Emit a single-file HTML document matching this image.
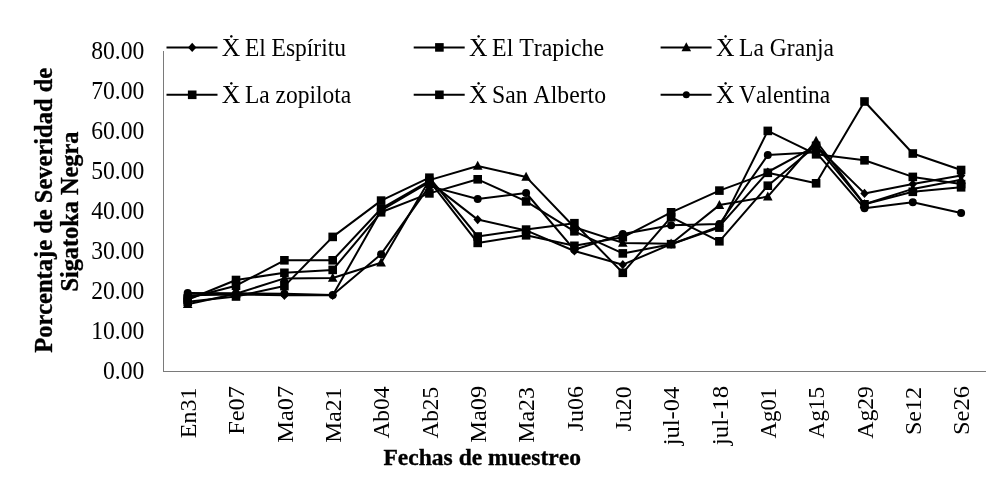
<!DOCTYPE html>
<html lang="es">
<head>
<meta charset="utf-8">
<title>Porcentaje de Severidad de Sigatoka Negra</title>
<style>
html,body{margin:0;padding:0;background:#fff;}
body{width:1008px;height:492px;overflow:hidden;}
svg{display:block;filter:blur(0.35px);}
text{font-family:"Liberation Serif",serif;fill:#000;font-kerning:none;}
.b{font-weight:bold;stroke:#000;stroke-width:0.35px;}
</style>
</head>
<body>
<svg width="1008" height="492" viewBox="0 0 1008 492">
<rect width="1008" height="492" fill="#fff"/>

<g stroke="#7a7a7a" stroke-width="1" fill="none" shape-rendering="crispEdges">
<line x1="163.5" y1="51" x2="163.5" y2="372"/>
<line x1="163" y1="371.5" x2="986" y2="371.5"/>
</g>
<g font-size="24.5" text-anchor="end">
<text transform="translate(144.3,378.5) scale(0.965,1)">0.00</text>
<text transform="translate(144.3,338.5) scale(0.965,1)">10.00</text>
<text transform="translate(144.3,298.5) scale(0.965,1)">20.00</text>
<text transform="translate(144.3,258.5) scale(0.965,1)">30.00</text>
<text transform="translate(144.3,218.5) scale(0.965,1)">40.00</text>
<text transform="translate(144.3,178.5) scale(0.965,1)">50.00</text>
<text transform="translate(144.3,138.5) scale(0.965,1)">60.00</text>
<text transform="translate(144.3,98.5) scale(0.965,1)">70.00</text>
<text transform="translate(144.3,58.5) scale(0.965,1)">80.00</text>
</g>
<g font-size="23.2" text-anchor="end">
<text transform="translate(196.0,387.59) rotate(-90) scale(1.0325,1)">En31</text>
<text transform="translate(244.3,386.02) rotate(-90) scale(1.053,1)">Fe07</text>
<text transform="translate(292.7,385.72) rotate(-90) scale(1.0535,1)">Ma07</text>
<text transform="translate(341.0,387.61) rotate(-90) scale(1.0183,1)">Ma21</text>
<text transform="translate(389.4,386.4) rotate(-90) scale(1.0132,1)">Ab04</text>
<text transform="translate(437.7,386.87) rotate(-90) scale(1.004,1)">Ab25</text>
<text transform="translate(486.0,385.72) rotate(-90) scale(1.0535,1)">Ma09</text>
<text transform="translate(534.4,387.15) rotate(-90) scale(1.0269,1)">Ma23</text>
<text transform="translate(582.7,386.05) rotate(-90) scale(1.0307,1)">Ju06</text>
<text transform="translate(631.1,386.45) rotate(-90) scale(1.0213,1)">Ju20</text>
<text transform="translate(679.4,386.7) rotate(-90) scale(1.057,1)">jul-04</text>
<text transform="translate(727.7,385.7) rotate(-90) scale(1.0746,1)">jul-18</text>
<text transform="translate(776.1,387.67) rotate(-90) scale(0.9883,1)">Ag01</text>
<text transform="translate(824.4,386.87) rotate(-90) scale(1.004,1)">Ag15</text>
<text transform="translate(872.8,386.06) rotate(-90) scale(1.02,1)">Ag29</text>
<text transform="translate(921.1,386.84) rotate(-90) scale(1.0386,1)">Se12</text>
<text transform="translate(969.4,386.02) rotate(-90) scale(1.057,1)">Se26</text>
</g>
<text class="b" font-size="25" text-anchor="middle" transform="translate(52.3,210.3) rotate(-90) scale(0.98,1)">Porcentaje de Severidad de</text>
<text class="b" font-size="24.8" text-anchor="middle" transform="translate(77.9,211.6) rotate(-90) scale(0.98,1)">Sigatoka Negra</text>
<text class="b" font-size="23.9" text-anchor="middle" transform="translate(482.2,465.0) scale(0.985,1)">Fechas de muestreo</text>
<g stroke="#000" stroke-width="2" fill="none" stroke-linejoin="round" stroke-linecap="round">
<polyline points="187.7,295.3 236.0,294.5 284.4,295.3 332.7,295.3 381.1,210.3 429.4,182.1 477.7,219.6 526.1,230.4 574.4,251.0 622.8,264.7 671.1,244.2 719.4,226.4 767.8,172.0 816.1,145.8 864.5,193.4 912.8,184.1 961.1,175.6"/>
<polyline points="187.7,301.8 236.0,296.5 284.4,286.1 332.7,236.9 381.1,200.6 429.4,177.7 477.7,236.5 526.1,229.6 574.4,223.2 622.8,272.8 671.1,217.2 719.4,241.3 767.8,185.7 816.1,145.8 864.5,204.3 912.8,191.8 961.1,187.3"/>
<polyline points="187.7,304.2 236.0,293.7 284.4,278.4 332.7,278.0 381.1,262.7 429.4,180.1 477.7,166.0 526.1,176.9 574.4,227.2 622.8,242.9 671.1,243.7 719.4,205.1 767.8,196.6 816.1,141.0 864.5,204.3 912.8,188.9 961.1,179.7"/>
<polyline points="187.7,298.2 236.0,285.7 284.4,260.3 332.7,260.3 381.1,208.7 429.4,180.9 477.7,242.9 526.1,235.3 574.4,245.8 622.8,237.3 671.1,212.3 719.4,190.6 767.8,172.8 816.1,183.3 864.5,101.5 912.8,153.5 961.1,170.0"/>
<polyline points="187.7,299.8 236.0,280.0 284.4,272.8 332.7,269.9 381.1,212.3 429.4,193.4 477.7,179.3 526.1,201.4 574.4,231.3 622.8,253.4 671.1,244.2 719.4,227.6 767.8,130.9 816.1,154.3 864.5,160.3 912.8,176.9 961.1,184.1"/>
<polyline points="187.7,292.9 236.0,293.3 284.4,293.7 332.7,294.9 381.1,254.2 429.4,186.1 477.7,199.0 526.1,193.0 574.4,249.8 622.8,234.1 671.1,225.2 719.4,224.0 767.8,155.1 816.1,152.3 864.5,208.3 912.8,202.2 961.1,213.1"/>
</g>
<g fill="#000" stroke="none">
<polygon points="187.7,290.7 191.9,295.3 187.7,299.9 183.5,295.3"/>
<polygon points="236.0,289.9 240.2,294.5 236.0,299.1 231.8,294.5"/>
<polygon points="284.4,290.7 288.6,295.3 284.4,299.9 280.2,295.3"/>
<polygon points="332.7,290.7 336.9,295.3 332.7,299.9 328.5,295.3"/>
<polygon points="381.1,205.7 385.3,210.3 381.1,214.9 376.9,210.3"/>
<polygon points="429.4,177.5 433.6,182.1 429.4,186.7 425.2,182.1"/>
<polygon points="477.7,215.0 481.9,219.6 477.7,224.2 473.5,219.6"/>
<polygon points="526.1,225.8 530.3,230.4 526.1,235.0 521.9,230.4"/>
<polygon points="574.4,246.4 578.6,251.0 574.4,255.6 570.2,251.0"/>
<polygon points="622.8,260.1 627.0,264.7 622.8,269.3 618.6,264.7"/>
<polygon points="671.1,239.6 675.3,244.2 671.1,248.8 666.9,244.2"/>
<polygon points="719.4,221.8 723.6,226.4 719.4,231.0 715.2,226.4"/>
<polygon points="767.8,167.4 772.0,172.0 767.8,176.6 763.6,172.0"/>
<polygon points="816.1,141.2 820.3,145.8 816.1,150.4 811.9,145.8"/>
<polygon points="864.5,188.8 868.7,193.4 864.5,198.0 860.3,193.4"/>
<polygon points="912.8,179.5 917.0,184.1 912.8,188.7 908.6,184.1"/>
<polygon points="961.1,171.0 965.3,175.6 961.1,180.2 956.9,175.6"/>
<rect x="183.4" y="297.5" width="8.6" height="8.6"/>
<rect x="231.7" y="292.2" width="8.6" height="8.6"/>
<rect x="280.1" y="281.8" width="8.6" height="8.6"/>
<rect x="328.4" y="232.6" width="8.6" height="8.6"/>
<rect x="376.8" y="196.3" width="8.6" height="8.6"/>
<rect x="425.1" y="173.4" width="8.6" height="8.6"/>
<rect x="473.4" y="232.2" width="8.6" height="8.6"/>
<rect x="521.8" y="225.3" width="8.6" height="8.6"/>
<rect x="570.1" y="218.9" width="8.6" height="8.6"/>
<rect x="618.5" y="268.5" width="8.6" height="8.6"/>
<rect x="666.8" y="212.9" width="8.6" height="8.6"/>
<rect x="715.1" y="237.0" width="8.6" height="8.6"/>
<rect x="763.5" y="181.4" width="8.6" height="8.6"/>
<rect x="811.8" y="141.5" width="8.6" height="8.6"/>
<rect x="860.2" y="200.0" width="8.6" height="8.6"/>
<rect x="908.5" y="187.5" width="8.6" height="8.6"/>
<rect x="956.8" y="183.0" width="8.6" height="8.6"/>
<polygon points="187.7,299.0 192.5,308.0 182.9,308.0"/>
<polygon points="236.0,288.5 240.8,297.5 231.2,297.5"/>
<polygon points="284.4,273.2 289.2,282.2 279.6,282.2"/>
<polygon points="332.7,272.8 337.5,281.8 327.9,281.8"/>
<polygon points="381.1,257.5 385.9,266.5 376.3,266.5"/>
<polygon points="429.4,174.9 434.2,183.9 424.6,183.9"/>
<polygon points="477.7,160.8 482.5,169.8 472.9,169.8"/>
<polygon points="526.1,171.7 530.9,180.7 521.3,180.7"/>
<polygon points="574.4,222.0 579.2,231.0 569.6,231.0"/>
<polygon points="622.8,237.7 627.6,246.7 618.0,246.7"/>
<polygon points="671.1,238.5 675.9,247.5 666.3,247.5"/>
<polygon points="719.4,199.9 724.2,208.9 714.6,208.9"/>
<polygon points="767.8,191.4 772.6,200.4 763.0,200.4"/>
<polygon points="816.1,135.8 820.9,144.8 811.3,144.8"/>
<polygon points="864.5,199.1 869.3,208.1 859.7,208.1"/>
<polygon points="912.8,183.7 917.6,192.7 908.0,192.7"/>
<polygon points="961.1,174.5 965.9,183.5 956.3,183.5"/>
<rect x="183.4" y="293.9" width="8.6" height="8.6"/>
<rect x="231.7" y="281.4" width="8.6" height="8.6"/>
<rect x="280.1" y="256.0" width="8.6" height="8.6"/>
<rect x="328.4" y="256.0" width="8.6" height="8.6"/>
<rect x="376.8" y="204.4" width="8.6" height="8.6"/>
<rect x="425.1" y="176.6" width="8.6" height="8.6"/>
<rect x="473.4" y="238.6" width="8.6" height="8.6"/>
<rect x="521.8" y="231.0" width="8.6" height="8.6"/>
<rect x="570.1" y="241.5" width="8.6" height="8.6"/>
<rect x="618.5" y="233.0" width="8.6" height="8.6"/>
<rect x="666.8" y="208.0" width="8.6" height="8.6"/>
<rect x="715.1" y="186.3" width="8.6" height="8.6"/>
<rect x="763.5" y="168.5" width="8.6" height="8.6"/>
<rect x="811.8" y="179.0" width="8.6" height="8.6"/>
<rect x="860.2" y="97.2" width="8.6" height="8.6"/>
<rect x="908.5" y="149.2" width="8.6" height="8.6"/>
<rect x="956.8" y="165.7" width="8.6" height="8.6"/>
<rect x="183.4" y="295.5" width="8.6" height="8.6"/>
<rect x="231.7" y="275.7" width="8.6" height="8.6"/>
<rect x="280.1" y="268.5" width="8.6" height="8.6"/>
<rect x="328.4" y="265.6" width="8.6" height="8.6"/>
<rect x="376.8" y="208.0" width="8.6" height="8.6"/>
<rect x="425.1" y="189.1" width="8.6" height="8.6"/>
<rect x="473.4" y="175.0" width="8.6" height="8.6"/>
<rect x="521.8" y="197.1" width="8.6" height="8.6"/>
<rect x="570.1" y="227.0" width="8.6" height="8.6"/>
<rect x="618.5" y="249.1" width="8.6" height="8.6"/>
<rect x="666.8" y="239.9" width="8.6" height="8.6"/>
<rect x="715.1" y="223.3" width="8.6" height="8.6"/>
<rect x="763.5" y="126.6" width="8.6" height="8.6"/>
<rect x="811.8" y="150.0" width="8.6" height="8.6"/>
<rect x="860.2" y="156.0" width="8.6" height="8.6"/>
<rect x="908.5" y="172.6" width="8.6" height="8.6"/>
<rect x="956.8" y="179.8" width="8.6" height="8.6"/>
<circle cx="187.7" cy="292.9" r="4.0"/>
<circle cx="236.0" cy="293.3" r="4.0"/>
<circle cx="284.4" cy="293.7" r="4.0"/>
<circle cx="332.7" cy="294.9" r="4.0"/>
<circle cx="381.1" cy="254.2" r="4.0"/>
<circle cx="429.4" cy="186.1" r="4.0"/>
<circle cx="477.7" cy="199.0" r="4.0"/>
<circle cx="526.1" cy="193.0" r="4.0"/>
<circle cx="574.4" cy="249.8" r="4.0"/>
<circle cx="622.8" cy="234.1" r="4.0"/>
<circle cx="671.1" cy="225.2" r="4.0"/>
<circle cx="719.4" cy="224.0" r="4.0"/>
<circle cx="767.8" cy="155.1" r="4.0"/>
<circle cx="816.1" cy="152.3" r="4.0"/>
<circle cx="864.5" cy="208.3" r="4.0"/>
<circle cx="912.8" cy="202.2" r="4.0"/>
<circle cx="961.1" cy="213.1" r="4.0"/>
</g>
<g font-size="24.9">
<line x1="166.5" y1="47.4" x2="217.5" y2="47.4" stroke="#000" stroke-width="2"/>
<polygon points="192.2,42.8 196.4,47.4 192.2,52.0 188.0,47.4"/>
<text transform="translate(221.8,55.7) scale(1.03,1)">Ẋ</text>
<text transform="translate(244.9,55.7) scale(0.943,1)">El Espíritu</text>
<line x1="413.7" y1="47.4" x2="464.7" y2="47.4" stroke="#000" stroke-width="2"/>
<rect x="435.1" y="43.1" width="8.6" height="8.6"/>
<text transform="translate(469.0,55.7) scale(1.03,1)">Ẋ</text>
<text transform="translate(492.1,55.7) scale(0.958,1)">El Trapiche</text>
<line x1="660.6" y1="47.4" x2="711.6" y2="47.4" stroke="#000" stroke-width="2"/>
<polygon points="686.3,42.2 691.1,51.2 681.5,51.2"/>
<text transform="translate(715.9,55.7) scale(1.03,1)">Ẋ</text>
<text transform="translate(739.0,55.7) scale(0.948,1)">La Granja</text>
<line x1="166.5" y1="94.8" x2="217.5" y2="94.8" stroke="#000" stroke-width="2"/>
<rect x="187.9" y="90.5" width="8.6" height="8.6"/>
<text transform="translate(221.8,103.1) scale(1.03,1)">Ẋ</text>
<text transform="translate(244.9,103.1) scale(0.943,1)">La zopilota</text>
<line x1="413.7" y1="94.8" x2="464.7" y2="94.8" stroke="#000" stroke-width="2"/>
<rect x="435.1" y="90.5" width="8.6" height="8.6"/>
<text transform="translate(469.0,103.1) scale(1.03,1)">Ẋ</text>
<text transform="translate(492.1,103.1) scale(0.953,1)">San Alberto</text>
<line x1="660.6" y1="94.8" x2="711.6" y2="94.8" stroke="#000" stroke-width="2"/>
<circle cx="686.3" cy="94.8" r="3.5"/>
<text transform="translate(715.9,103.1) scale(1.03,1)">Ẋ</text>
<text transform="translate(739.0,103.1) scale(0.943,1)">Valentina</text>
</g>
</svg>
</body>
</html>
